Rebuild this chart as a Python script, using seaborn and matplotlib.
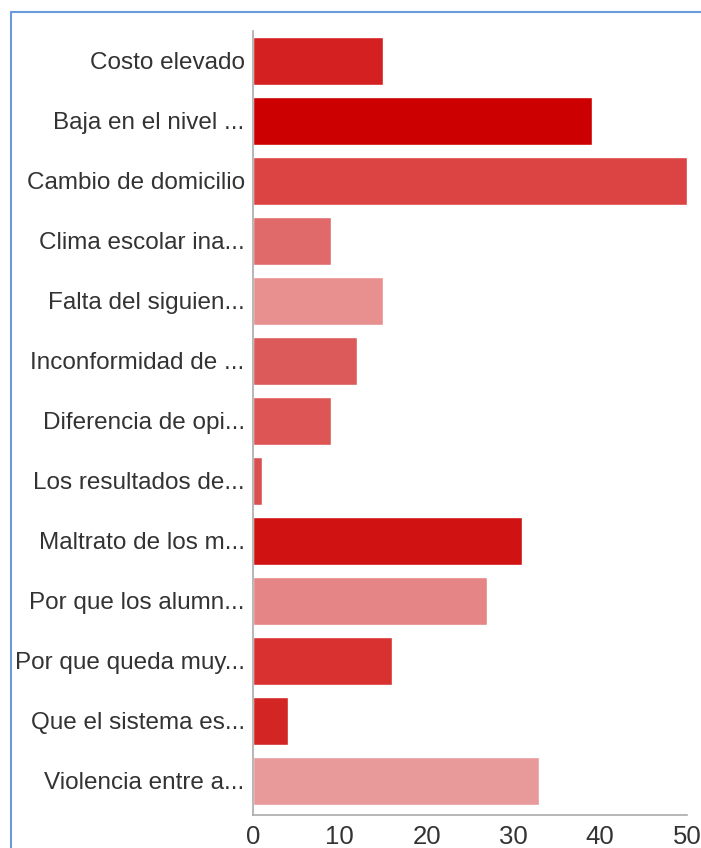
import matplotlib
matplotlib.use("Agg")
import matplotlib.pyplot as plt
import seaborn as sns
import pandas as pd
from matplotlib.lines import Line2D

categories = [
    "Costo elevado", "Baja en el nivel ...", "Cambio de domicilio",
    "Clima escolar ina...", "Falta del siguien...", "Inconformidad de ...",
    "Diferencia de opi...", "Los resultados de...", "Maltrato de los m...",
    "Por que los alumn...", "Por que queda muy...", "Que el sistema es...",
    "Violencia entre a...",
]
values = [15, 39, 50, 9, 15, 12, 9, 1, 31, 27, 16, 4, 33]
colors = ["#d42020", "#cc0000", "#dc4444", "#e06a6a", "#e88f8f", "#dd5a5a",
          "#dd5555", "#d85050", "#d01212", "#e68585", "#d93030", "#d42525",
          "#e89a9a"]
xticks = [0, 10, 20, 30, 40, 50]

df = pd.DataFrame({"cat": categories, "val": values})

sns.set_style("white")
plt.rcParams['font.family'] = ['Liberation Sans', 'DejaVu Sans']

fig = plt.figure(figsize=(7.01, 8.48), dpi=100)
ax = fig.add_axes([253/701, 1-815/848, (687-253)/701, (815-31)/848])

sns.barplot(data=df, x="val", y="cat", hue="cat", palette=colors,
            order=categories, hue_order=categories, legend=False,
            width=0.8, saturation=1, ax=ax, orient="h")

ax.set_xlim(0, 50)
ax.set_ylim(12.57, -0.5)
ax.set_xticks(xticks)
ax.set_xlabel("")
ax.set_ylabel("")
for s in ["top", "right"]:
    ax.spines[s].set_visible(False)
for s in ["left", "bottom"]:
    ax.spines[s].set_color("#aaaaaa")
    ax.spines[s].set_linewidth(1.2)
ax.tick_params(axis="y", length=4, color="#aaaaaa", labelsize=17.5,
               labelcolor="#333333", pad=2)
ax.tick_params(axis="x", length=6, color="#aaaaaa", labelsize=18.5,
               labelcolor="#333333", pad=1)

# blue frame of the screenshot
bx = 11/701
by = 1 - 12/848
fig.add_artist(Line2D([bx, bx], [0, by], transform=fig.transFigure,
                      color="#6a9bd8", lw=1.5))
fig.add_artist(Line2D([bx, 1], [by, by], transform=fig.transFigure,
                      color="#6a9bd8", lw=1.5))

fig.savefig("out.png", dpi=100)
